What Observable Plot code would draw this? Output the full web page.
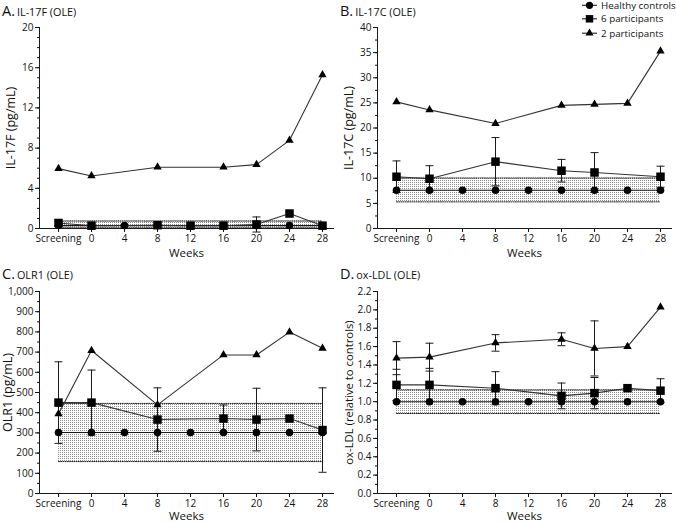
<!DOCTYPE html>
<html><head><meta charset="utf-8">
<script src="https://cdn.jsdelivr.net/npm/d3@7"></script>
<script src="https://cdn.jsdelivr.net/npm/@observablehq/plot@0.6"></script>
<style>
body{margin:0;background:#fff;}
#wrap{position:relative;width:676px;height:523px;overflow:hidden;font-family:'Open Sans',sans-serif;background:#fff;}
.panel{position:absolute;}
.panel svg{overflow:visible;}
#overlay{position:absolute;left:0;top:0;pointer-events:none;}
</style></head><body>
<div id="wrap">
<svg width="0" height="0" style="position:absolute;left:0;top:0"><defs><pattern id="dots" width="2" height="2" patternUnits="userSpaceOnUse"><rect width="1" height="1" fill="#8c8c8c"/></pattern></defs></svg>
</div>
<script>
const weeks = ["Screening","0","4","8","12","16","20","24","28"];
const seriesNames = ["Healthy controls","6 participants","2 participants"];

// Panel A: IL-17F (pg/mL)
const aControls = [0.3,0.3,0.3,0.3,0.3,0.3,0.3,0.3,0.3];
const aSix      = [0.55,0.28,null,0.33,0.28,0.28,0.4,1.49,0.28];
const aSixErr   = [null,null,null,null,null,null,0.75,null,null];
const aTwo      = [5.96,5.23,null,6.1,null,6.1,6.36,8.77,15.3];
const aTwoErr   = [null,null,null,null,null,null,null,null,null];
const aBand     = [0.13,0.74];
const aTicks    = [0,4,8,12,16,20];

// Panel B: IL-17C (pg/mL)
const bControls = [7.6,7.6,7.6,7.6,7.6,7.6,7.6,7.6,7.6];
const bSix      = [10.3,9.9,null,13.3,null,11.5,11.15,null,10.3];
const bSixErr   = [3.15,2.6,null,4.8,null,2.25,3.95,null,2.1];
const bTwo      = [25.2,23.6,null,20.9,null,24.5,24.7,24.9,35.3];
const bTwoErr   = [null,null,null,null,null,null,null,null,null];
const bBand     = [5.3,10.05];
const bTicks    = [0,5,10,15,20,25,30,35,40];

// Panel C: OLR1 (pg/mL)
const cControls = [302,302,302,302,302,302,302,302,302];
const cSix      = [450,450,null,366,null,371,366,371,314];
const cSixErr   = [202,161,null,157,null,67,155,null,209];
const cTwo      = [394,708,null,439,null,686,686,799,719];
const cTwoErr   = [null,null,null,null,null,null,null,null,null];
const cBand     = [158,446];
const cTicks    = [0,100,200,300,400,500,600,700,800,900,1000];

// Panel D: ox-LDL (relative to controls)
const dControls = [1.0,1.0,1.0,1.0,1.0,1.0,1.0,1.0,1.0];
const dSix      = [1.183,1.183,null,1.147,null,1.063,1.093,1.147,1.12];
const dSixErr   = [0.17,0.18,null,0.18,null,0.14,0.17,null,0.13];
const dTwo      = [1.474,1.485,null,1.64,null,1.68,1.58,1.60,2.03];
const dTwoErr   = [0.18,0.152,null,0.09,null,0.07,0.30,null,null];
const dBand     = [0.871,1.129];
const dTicks    = [0,0.2,0.4,0.6,0.8,1.0,1.2,1.4,1.6,1.8,2.0,2.2];

const pts = (vals, errs) => weeks.map((w,i)=>({week:w, v:vals[i], e: errs ? errs[i] : null})).filter(d=>d.v!=null);
const capSym = {draw(ctx){ ctx.moveTo(-4,0); ctx.lineTo(4,0); }};
const INK = "#1a1a1a";

function panel(o){
  const ctrl = pts(o.controls), six = pts(o.six, o.sixErr), two = pts(o.two, o.twoErr);
  const errs = [...six, ...two].filter(d=>d.e!=null);
  const bandRows = weeks.map(w=>({week:w, lo:o.band[0], hi:o.band[1]}));
  const max = o.ticks[o.ticks.length-1];
  const minors = d3.range(0, max + o.minor/2, o.minor);
  const chart = Plot.plot({
    width: 338, height: o.height,
    marginLeft: 39, marginRight: 5, marginTop: o.marginTop, marginBottom: 30,
    style: {fontFamily:"'Open Sans', sans-serif", fontSize:"10px", color:"#111", background:"transparent", overflow:"visible"},
    x: {type:"point", domain: weeks, padding:0, insetLeft:16, insetRight:9},
    y: {domain:[0,max], nice:false},
    marks: [
      Plot.areaY(bandRows, {x:"week", y1:"lo", y2:"hi", fill:"url(#dots)"}),
      Plot.lineY(bandRows, {x:"week", y:"hi", stroke:INK, strokeWidth:1, strokeDasharray:"1,1.2"}),
      Plot.lineY(bandRows, {x:"week", y:"lo", stroke:INK, strokeWidth:1, strokeDasharray:"1,1.2"}),
      Plot.axisY({ticks: minors, tickSize:2, tickFormat:()=>"", label:null}),
      Plot.axisY({ticks: o.ticks, tickSize:4, tickPadding:2, tickFormat:o.fmt, label:null}),
      Plot.axisX({tickSize:4, tickPadding:2, label:null}),
      Plot.frame({anchor:"left", stroke:INK}),
      Plot.frame({anchor:"bottom", stroke:INK}),
      Plot.text([o.ylabel], {frameAnchor:"left", dx:o.ylabelDx, rotate:-90, textAnchor:"middle", lineAnchor:"middle", fontSize:o.ylabelSize, fill:"#111"}),
      Plot.text(["Weeks"], {frameAnchor:"bottom", dy:o.weeksDy, lineAnchor:"middle", fontSize:11.5, fill:"#111"}),
      Plot.line(ctrl, {x:"week", y:"v", stroke:INK, strokeWidth:1.1}),
      Plot.line(six, {x:"week", y:"v", stroke:"#333", strokeWidth:1.1}),
      Plot.line(two, {x:"week", y:"v", stroke:"#333", strokeWidth:1.1}),
      Plot.ruleX(errs, {x:"week", y1:d=>d.v-d.e, y2:d=>d.v+d.e, stroke:INK, strokeWidth:1}),
      Plot.dot(errs, {x:"week", y:d=>d.v+d.e, symbol:capSym, fill:"none", stroke:INK, strokeWidth:1}),
      Plot.dot(errs, {x:"week", y:d=>d.v-d.e, symbol:capSym, fill:"none", stroke:INK, strokeWidth:1}),
      Plot.dot(ctrl, {x:"week", y:"v", symbol:"circle", r:3.8, fill:"#000"}),
      Plot.dot(six, {x:"week", y:"v", symbol:"square", r:4.8, fill:"#000"}),
      Plot.dot(two, {x:"week", y:"v", symbol:"triangle", r:3.1, fill:"#000"})
    ]
  });
  const div = document.createElement("div");
  div.className = "panel";
  div.style.left = o.left + "px"; div.style.top = o.top + "px";
  div.appendChild(chart);
  document.getElementById("wrap").appendChild(div);
}

panel({left:0, top:0, height:258, marginTop:27, ticks:aTicks, minor:1, fmt:d3.format("d"), ylabel:"IL-17F (pg/mL)", ylabelDx:-29, ylabelSize:12.5, weeksDy:25,
  controls:aControls, six:aSix, sixErr:aSixErr, two:aTwo, twoErr:aTwoErr, band:aBand});
panel({left:338, top:0, height:258, marginTop:27, ticks:bTicks, minor:2.5, fmt:d3.format("d"), ylabel:"IL-17C (pg/mL)", ylabelDx:-29, ylabelSize:12.5, weeksDy:25,
  controls:bControls, six:bSix, sixErr:bSixErr, two:bTwo, twoErr:bTwoErr, band:bBand});
panel({left:0, top:258, height:265, marginTop:33, ticks:cTicks, minor:50, fmt:d3.format(","), ylabel:"OLR1 (pg/mL)", ylabelDx:-31.5, ylabelSize:12.5, weeksDy:23,
  controls:cControls, six:cSix, sixErr:cSixErr, two:cTwo, twoErr:cTwoErr, band:cBand});
panel({left:338, top:258, height:265, marginTop:33, ticks:dTicks, minor:0.1, fmt:d3.format(".1f"), ylabel:"ox-LDL (relative to controls)", ylabelDx:-28, ylabelSize:11.3, weeksDy:23,
  controls:dControls, six:dSix, sixErr:dSixErr, two:dTwo, twoErr:dTwoErr, band:dBand});

// Overlay: panel titles and legend
const ov = d3.select("#wrap").append("svg").attr("id","overlay").attr("width",676).attr("height",523)
  .style("font-family","'Open Sans', sans-serif").style("fill","#111");
const titles = [
  {x:2, y:15.5, letter:"A.", text:"IL-17F (OLE)"},
  {x:340, y:15.5, letter:"B.", text:"IL-17C (OLE)"},
  {x:2, y:279, letter:"C.", text:"OLR1 (OLE)"},
  {x:340, y:279, letter:"D.", text:"ox-LDL (OLE)"}
];
titles.forEach(t=>{
  const tx = ov.append("text").attr("x",t.x).attr("y",t.y);
  tx.append("tspan").attr("font-size",14.5).text(t.letter);
  tx.append("tspan").attr("font-size",10.8).attr("dx",2).text(t.text);
});
const legSyms = [d3.symbolCircle, d3.symbolSquare, d3.symbolTriangle];
const legSizes = [Math.PI*3.6*3.6, Math.PI*4.2*4.2, Math.PI*3*3];
const legY = [5.3, 18.8, 33.2];
seriesNames.forEach((n,i)=>{
  const g = ov.append("g").attr("transform",`translate(0,${legY[i]})`);
  g.append("line").attr("x1",582).attr("x2",597).attr("stroke","#222").attr("stroke-width",1.1);
  g.append("path").attr("transform","translate(589.5,0)").attr("d", d3.symbol(legSyms[i], legSizes[i])()).attr("fill","#000");
  g.append("text").attr("x",601).attr("y",3.6).attr("font-size",9.8).text(n);
});
</script>
</body></html>
